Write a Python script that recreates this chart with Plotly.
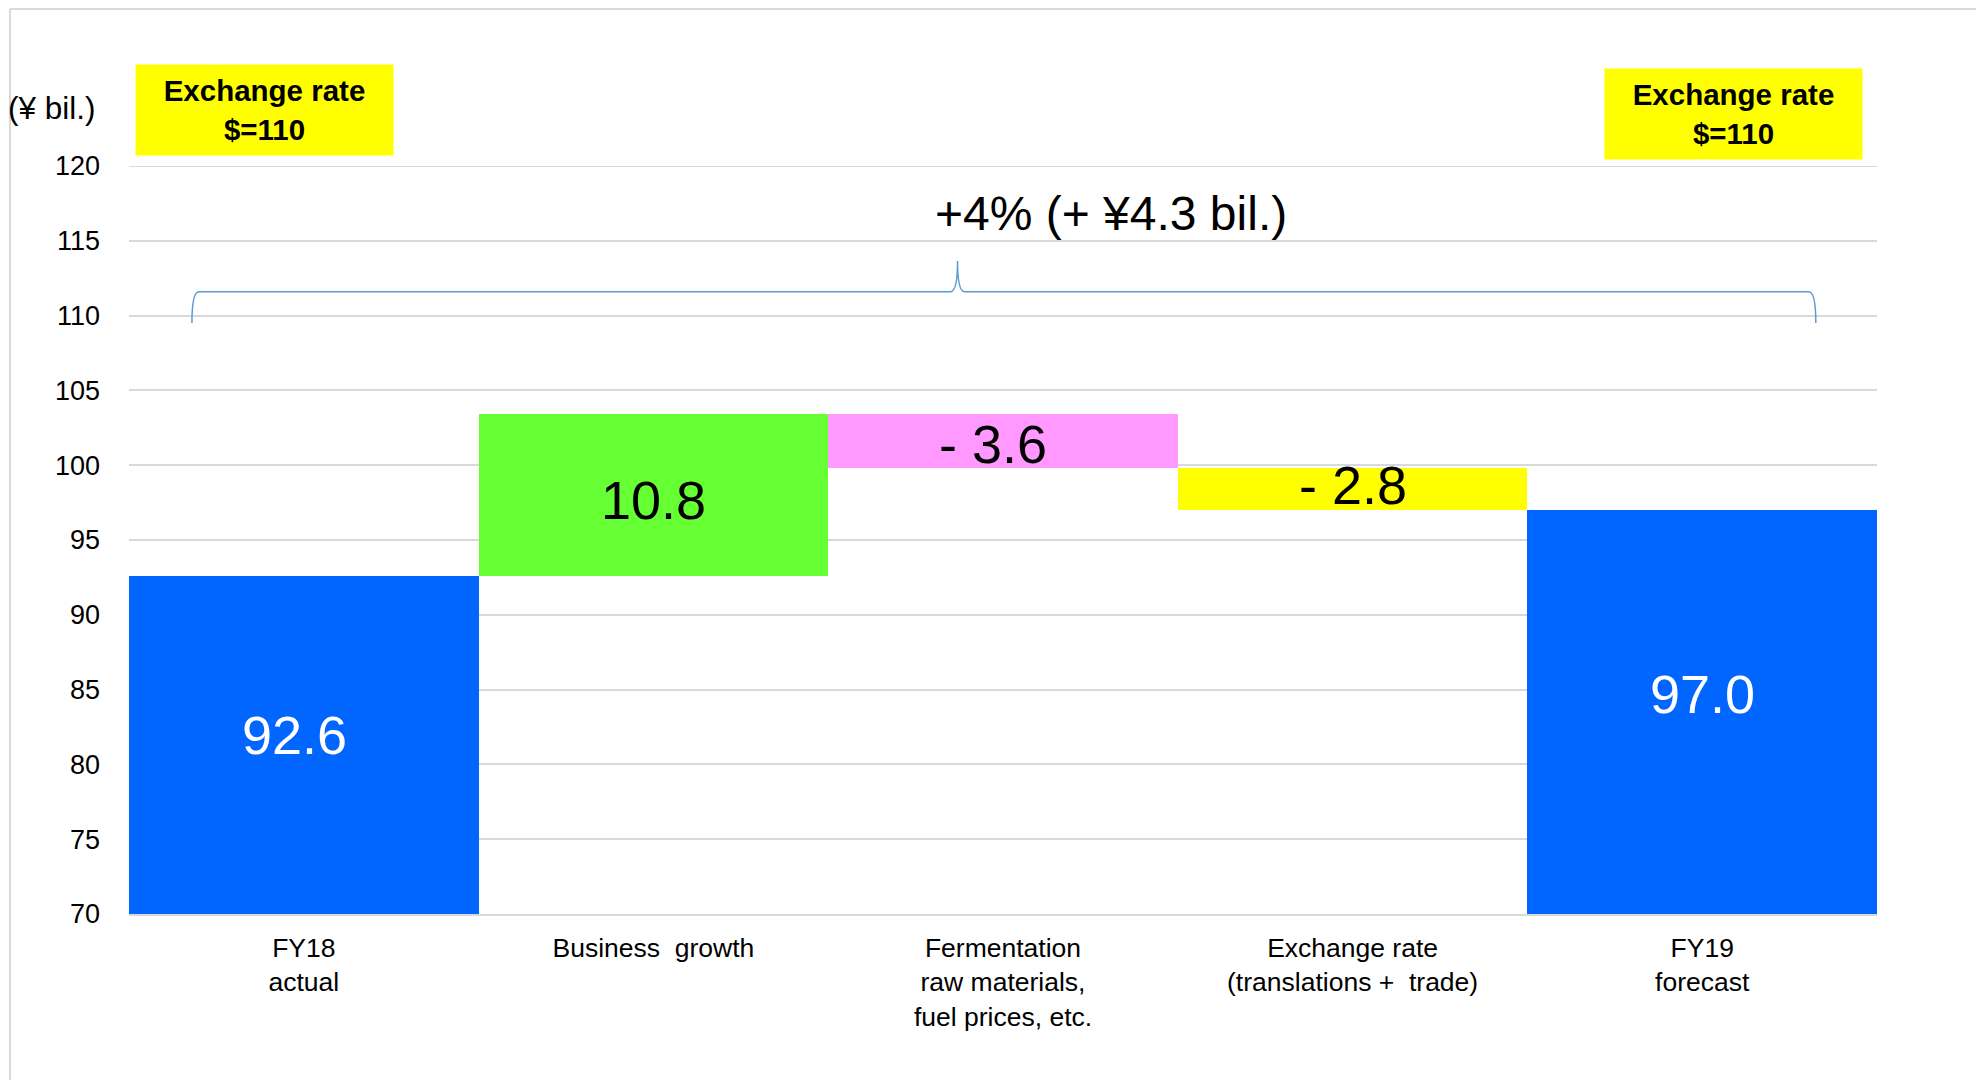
import plotly.graph_objects as go

# Operating profit bridge, FY18 actual -> FY19 forecast (¥ bil.)
categories = [
    "FY18<br>actual",
    "Business  growth",
    "Fermentation<br>raw materials,<br>fuel prices, etc.",
    "Exchange rate<br>(translations +  trade)",
    "FY19<br>forecast",
]
values = [92.6, 10.8, -3.6, -2.8, 97.0]
kinds = ["total", "delta", "delta", "delta", "total"]
value_labels = ["92.6", "10.8", "- 3.6", "- 2.8", "97.0"]
bar_colors = ["#0066FF", "#66FF33", "#FF99FF", "#FFFF00", "#0066FF"]
label_colors = ["white", "black", "black", "black", "white"]
y_ticks = [70, 75, 80, 85, 90, 95, 100, 105, 110, 115, 120]
axis_floor = 70

# fine placement of the value labels inside their bars (pixels)
label_xshift = [-9, 0, -10, 0, 0]
label_yshift = [10, -5, -3, 4, 18]

# floating bars: totals start at the axis floor, deltas hang off the running total
bases, heights = [], []
running = 0.0
for v, k in zip(values, kinds):
    if k == "total":
        bases.append(axis_floor)
        heights.append(v - axis_floor)
        running = v
    else:
        bases.append(running + min(0.0, v))
        heights.append(abs(v))
        running += v

FONT = "Arial, Liberation Sans, sans-serif"
GRID = "#D9D9D9"

fig = go.Figure(
    go.Bar(
        x=categories,
        y=heights,
        base=bases,
        marker=dict(color=bar_colors, line=dict(width=0)),
        hoverinfo="skip",
    )
)

# value labels at the middle of each bar
for cat, b, h, txt, col, xs, ys in zip(categories, bases, heights, value_labels,
                                        label_colors, label_xshift, label_yshift):
    fig.add_annotation(
        x=cat, y=b + h / 2, text=txt, showarrow=False,
        font=dict(size=54, color=col), xanchor="center", yanchor="middle",
        xshift=xs, yshift=ys,
    )

fig.update_layout(
    width=1976,
    height=1080,
    margin=dict(l=129, r=99, t=166, b=166),
    paper_bgcolor="white",
    plot_bgcolor="white",
    bargap=0,
    showlegend=False,
    font=dict(family=FONT, color="black"),
)

fig.update_xaxes(
    type="category",
    tickfont=dict(size=26.5, color="black"),
    showgrid=False,
    showline=True,
    linecolor=GRID,
    linewidth=2,
    ticks="",
    ticklabelstandoff=9,
)
fig.update_yaxes(
    range=[70, 120],
    tickvals=y_ticks,
    tickfont=dict(size=27, color="black"),
    showgrid=True,
    gridcolor=GRID,
    gridwidth=2,
    zeroline=False,
    showline=False,
    ticks="",
    ticklabelstandoff=28,
)

# top gridline sits on the plot edge, draw it explicitly
fig.add_shape(type="line", xref="paper", yref="y", x0=0, x1=1, y0=120, y1=120,
              line=dict(color=GRID, width=2), layer="below")

# unit label
fig.add_annotation(
    text="(¥ bil.)", x=-0.0441, y=1.0775, xref="paper", yref="paper",
    showarrow=False, font=dict(size=31.5, color="black"), xanchor="center", yanchor="middle",
)

# exchange rate assumption boxes
for bx, by in [(0.0775, 1.0749), (0.918, 1.0695)]:
    fig.add_annotation(
        text="<b>Exchange rate</b><br><b>$=110</b>", x=bx, y=by, xref="paper", yref="paper",
        showarrow=False, font=dict(size=29.5, color="black"), bgcolor="#FFFF00",
        width=257, height=90, borderpad=0, xanchor="center", yanchor="middle", align="center",
    )

# overall change label
fig.add_annotation(
    text="+4% (+ ¥4.3 bil.)", x=0.562, y=116.8, xref="paper", yref="y",
    showarrow=False, font=dict(size=48, color="black"), xanchor="center", yanchor="middle",
)

# curly brace spanning the whole bridge
x0, x1, xt = 0.036, 0.965, 0.474
y_end, y_line, y_tip = 109.5, 111.6, 113.65
dx = 0.004
brace = (
    f"M {x0},{y_end} Q {x0},{y_line} {x0 + dx},{y_line} "
    f"L {xt - dx},{y_line} Q {xt},{y_line} {xt},{y_tip} "
    f"Q {xt},{y_line} {xt + dx},{y_line} "
    f"L {x1 - dx},{y_line} Q {x1},{y_line} {x1},{y_end}"
)
fig.add_shape(type="path", path=brace, xref="paper", yref="y",
              line=dict(color="#5B9BD5", width=1.5))

# slide frame
fig.add_shape(type="line", xref="paper", yref="paper", x0=-0.0681, x1=-0.0681, y0=-0.3, y1=1.2099,
              line=dict(color=GRID, width=2))
fig.add_shape(type="line", xref="paper", yref="paper", x0=-0.0681, x1=1.1, y0=1.2099, y1=1.2099,
              line=dict(color=GRID, width=2))

fig.write_html("out.html")
